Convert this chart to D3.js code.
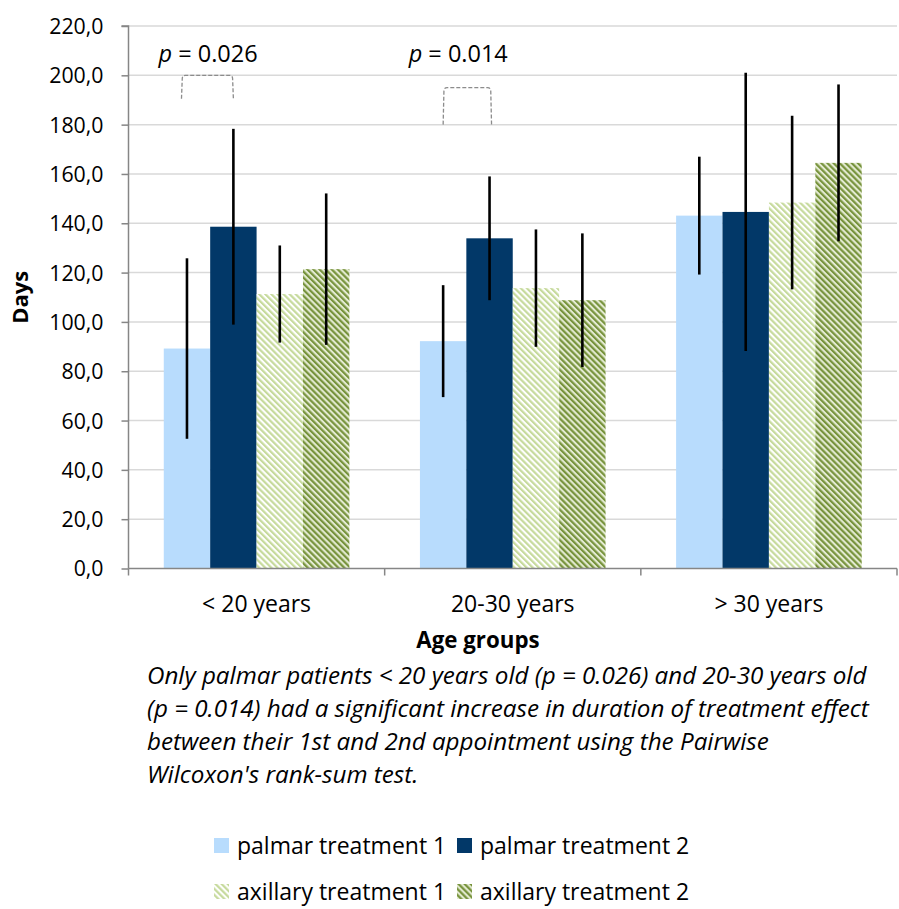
<!DOCTYPE html>
<html>
<head>
<meta charset="utf-8">
<script src="https://cdn.jsdelivr.net/npm/d3@7"></script>
<style>
  html, body { margin: 0; padding: 0; background: #fff; }
  svg { display: block; font-family: "Open Sans", Lato, sans-serif; }
</style>
</head>
<body>
<svg id="chart" width="899" height="909"></svg>
<script>
// ---- data ----
const categories = ["< 20 years", "20-30 years", "> 30 years"];
const seriesNames = ["palmar treatment 1", "palmar treatment 2", "axillary treatment 1", "axillary treatment 2"];
const palmar1 = [89.2, 92.2, 143.1];
const palmar1Err = [36.6, 22.7, 23.9];
const palmar2 = [138.6, 133.9, 144.6];
const palmar2Err = [39.7, 25.1, 56.4];
const axillary1 = [111.3, 113.7, 148.4];
const axillary1Err = [19.7, 23.8, 35.2];
const axillary2 = [121.4, 108.8, 164.5];
const axillary2Err = [30.7, 27.1, 31.8];
const yTicks = [0, 20, 40, 60, 80, 100, 120, 140, 160, 180, 200, 220];
const pLabels = ["0.026", "0.014"];
const pCategories = ["< 20 years", "20-30 years"];
const bracketTop = [200, 195];
const bracketBottom = [190.5, 180];
const captionLines = [
  "Only palmar patients < 20 years old (p = 0.026) and 20-30 years old",
  "(p = 0.014) had a significant increase in duration of treatment effect",
  "between their 1st and 2nd appointment using the Pairwise",
  "Wilcoxon's rank-sum test."
];

const seriesValues = [palmar1, palmar2, axillary1, axillary2];
const seriesErrors = [palmar1Err, palmar2Err, axillary1Err, axillary2Err];

const svg = d3.select("#chart");
const plotL = 128.5, plotR = 897, plotT = 26, plotB = 568.5;

// patterns
const defs = svg.append("defs");
function makePattern(id, fg, bg) {
  const p = defs.append("pattern")
    .attr("id", id)
    .attr("patternUnits", "userSpaceOnUse")
    .attr("width", 4.3).attr("height", 10)
    .attr("patternTransform", "rotate(-45)");
  p.append("rect").attr("width", 4.3).attr("height", 10).attr("fill", bg);
  p.append("rect").attr("width", 2.2).attr("height", 10).attr("fill", fg);
}
makePattern("pat-ax1", "#c6da9c", "#ffffff");
makePattern("pat-ax2", "#77933c", "#e4ebd2");

const fills = ["#b8dcfd", "#023868", "url(#pat-ax1)", "url(#pat-ax2)"];

const y = d3.scaleLinear().domain([0, 220]).range([plotB, plotT]);
const x0 = d3.scaleBand().domain(categories).range([plotL, plotR]).paddingInner(0).paddingOuter(0);
const x1 = d3.scaleBand().domain(seriesNames).range([0, x0.bandwidth()]).paddingInner(0).paddingOuter(0.76);

// gridlines
svg.append("g").selectAll("line").data(yTicks.filter(d => d > 0)).join("line")
  .attr("x1", plotL).attr("x2", plotR)
  .attr("y1", d => y(d)).attr("y2", d => y(d))
  .attr("stroke", "#d9d9d9").attr("stroke-width", 1.5);

// bars
const rows = [];
categories.forEach((c, ci) => {
  seriesNames.forEach((s, si) => {
    rows.push({ cat: c, series: s, si, v: seriesValues[si][ci], e: seriesErrors[si][ci] });
  });
});

svg.append("g").selectAll("rect").data(rows).join("rect")
  .attr("x", d => x0(d.cat) + x1(d.series))
  .attr("y", d => y(d.v))
  .attr("width", x1.bandwidth())
  .attr("height", d => y(0) - y(d.v))
  .attr("fill", d => fills[d.si]);

// error bars
svg.append("g").selectAll("line").data(rows).join("line")
  .attr("x1", d => x0(d.cat) + x1(d.series) + x1.bandwidth() / 2)
  .attr("x2", d => x0(d.cat) + x1(d.series) + x1.bandwidth() / 2)
  .attr("y1", d => y(d.v + d.e))
  .attr("y2", d => y(d.v - d.e))
  .attr("stroke", "#000").attr("stroke-width", 2.6);

// y axis
const yAxis = d3.axisLeft(y).tickValues(yTicks).tickSize(7).tickPadding(18)
  .tickFormat(d => d3.format(".1f")(d).replace(".", ","));
const gy = svg.append("g").attr("transform", `translate(${plotL},0)`).call(yAxis);
gy.attr("font-family", null).attr("font-size", null);
gy.select(".domain").attr("stroke", "#868686").attr("stroke-width", 1.5).attr("d", `M-7,${plotT}H0V${plotB}`);
gy.selectAll(".tick line").attr("stroke", "#868686").attr("stroke-width", 1.5);
gy.selectAll(".tick text").attr("fill", "#000").style("font-size", "21.3px").attr("dy", "0.35em");

// x axis
const xAxis = d3.axisBottom(x0).tickSize(0).tickPadding(0).tickFormat(d => d);
const gx = svg.append("g").attr("transform", `translate(0,${plotB})`).call(xAxis);
gx.attr("font-family", null).attr("font-size", null);
gx.select(".domain").attr("stroke", "#868686").attr("stroke-width", 1.5).attr("d", `M${plotL},0H${plotR}`);
gx.selectAll(".tick text").attr("fill", "#000").style("font-size", "23px").attr("y", 43).attr("dy", 0);
// category separators
const seps = categories.map(c => x0(c)).concat([plotR]);
gx.append("g").selectAll("line").data(seps).join("line")
  .attr("x1", d => d).attr("x2", d => d).attr("y1", 0).attr("y2", 7)
  .attr("stroke", "#868686").attr("stroke-width", 1.5);

// axis titles
svg.append("text").attr("transform", `translate(28,${(plotT + plotB) / 2}) rotate(-90)`)
  .attr("text-anchor", "middle").style("font-size", "22px").style("font-weight", "bold").text("Days");
svg.append("text").attr("x", 478).attr("y", 648).attr("text-anchor", "middle")
  .style("font-size", "22.3px").style("font-weight", "bold").text("Age groups");

// p-value brackets
const bracketOffsets = [[-5.5, 0], [0, 2]];
const textOffsets = [30, 24];
pCategories.forEach((c, i) => {
  const xl = x0(c) + x1(seriesNames[0]) + x1.bandwidth() / 2 + bracketOffsets[i][0];
  const xr = x0(c) + x1(seriesNames[1]) + x1.bandwidth() / 2 + bracketOffsets[i][1];
  const yt = y(bracketTop[i]), yb = y(bracketBottom[i]);
  const r = 3;
  svg.append("path")
    .attr("d", `M${xl},${yb} L${xl + 0.8},${yt + r} Q${xl + 1},${yt} ${xl + r + 1},${yt} L${xr - r - 1},${yt} Q${xr - 1},${yt} ${xr - 0.8},${yt + r} L${xr},${yb}`)
    .attr("fill", "none").attr("stroke", "#8c8c8c").attr("stroke-width", 1.3)
    .attr("stroke-dasharray", "4,2");
  const t = svg.append("text").attr("x", x0(c) + textOffsets[i]).attr("y", 62)
    .style("font-size", "23.5px").attr("fill", "#000");
  t.append("tspan").style("font-style", "italic").text("p");
  t.append("tspan").text(" = " + pLabels[i]);
});

// caption
svg.append("g").selectAll("text").data(captionLines).join("text")
  .attr("x", 147).attr("y", (d, i) => 684 + i * 33)
  .style("font-size", "24.2px").style("font-style", "italic").attr("fill", "#000")
  .text(d => d);

// legend
const legendPos = [[214, 838], [457, 838], [214, 884], [457, 884]];
const lg = svg.append("g").selectAll("g").data(seriesNames).join("g")
  .attr("transform", (d, i) => `translate(${legendPos[i][0]},${legendPos[i][1]})`);
lg.append("rect").attr("width", 15).attr("height", 15).attr("fill", (d, i) => fills[i]);
lg.append("text").attr("x", 23).attr("y", 16).style("font-size", "23px").attr("fill", "#000").text(d => d);
</script>
</body>
</html>
